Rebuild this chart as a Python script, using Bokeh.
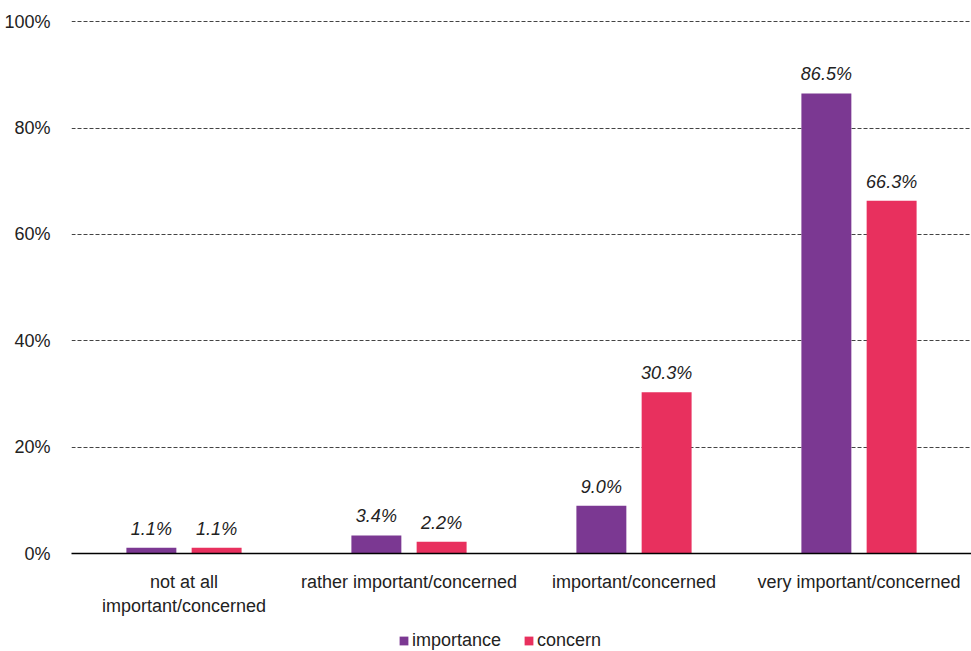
from bokeh.plotting import figure
from bokeh.layouts import column
from bokeh.models import ColumnDataSource, Legend, LegendItem, FixedTicker, CustomJSTickFormatter, Range1d
from bokeh.core.properties import value
from bokeh.transform import dodge
from bokeh.embed import file_html
from bokeh.resources import INLINE

categories = ["not at all\nimportant/concerned", "rather important/concerned",
              "important/concerned", "very important/concerned"]
importance = [1.1, 3.4, 9.0, 86.5]
concern = [1.1, 2.2, 30.3, 66.3]
y_ticks = [0, 20, 40, 60, 80, 100]
series_names = ["importance", "concern"]

PURPLE = "#7B3892"
PINK = "#E8305E"
FONT = "Liberation Sans"
FS = "18px"

src = ColumnDataSource(dict(
    cat=categories,
    imp=importance,
    con=concern,
    imp_lbl=[f"{v:.1f}%" for v in importance],
    con_lbl=[f"{v:.1f}%" for v in concern],
))

p = figure(x_range=categories, y_range=Range1d(0, 100.4), width=971, height=620,
           output_backend="svg", toolbar_location=None,
           min_border_left=71, min_border_right=0, min_border_top=19, min_border_bottom=67)
p.outline_line_color = None

off = 0.145
w = 0.222
p.vbar(x=dodge("cat", -off, range=p.x_range), top="imp", width=w, source=src,
       fill_color=PURPLE, line_color=None)
p.vbar(x=dodge("cat", off, range=p.x_range), top="con", width=w, source=src,
       fill_color=PINK, line_color=None)

for col, lbl, d in (("imp", "imp_lbl", -off), ("con", "con_lbl", off)):
    p.text(x=dodge("cat", d, range=p.x_range), y=col, text=lbl, source=src,
           text_align="center", text_baseline="bottom", y_offset=-9,
           text_font=value(FONT), text_font_style="italic",
           text_font_size=FS, text_color="#222222")

p.xgrid.grid_line_color = None
p.ygrid.grid_line_color = "#444444"
p.ygrid.grid_line_dash = "4 2"
p.ygrid.grid_line_width = 1

p.yaxis.ticker = FixedTicker(ticks=y_ticks)
p.yaxis.formatter = CustomJSTickFormatter(code="return tick + '%';")
p.yaxis.axis_line_color = None
p.yaxis.major_tick_line_color = None
p.yaxis.minor_tick_line_color = None
p.yaxis.major_label_text_font = FONT
p.yaxis.major_label_text_font_size = FS
p.yaxis.major_label_text_color = "#222222"
p.yaxis.major_label_standoff = 15

p.xaxis.axis_line_color = "black"
p.xaxis.axis_line_width = 1.5
p.xaxis.major_tick_line_color = None
p.xaxis.minor_tick_line_color = None
p.xaxis.major_label_text_font = FONT
p.xaxis.major_label_text_font_size = FS
p.xaxis.major_label_text_color = "#222222"
p.xaxis.major_label_standoff = 12

# legend strip below the chart
lg = figure(width=971, height=31, output_backend="svg", toolbar_location=None,
            x_range=Range1d(0, 1), y_range=Range1d(0, 1),
            x_axis_location=None, y_axis_location=None,
            min_border_left=0, min_border_right=0, min_border_top=0, min_border_bottom=0)
lg.outline_line_color = None
lg.xgrid.grid_line_color = None
lg.ygrid.grid_line_color = None
swatch = ColumnDataSource(dict(x=[-10], top=[0]))
l1 = lg.vbar(x="x", top="top", width=0.1, source=swatch, fill_color=PURPLE, line_color=None)
l2 = lg.vbar(x="x", top="top", width=0.1, source=swatch, fill_color=PINK, line_color=None)

legend = Legend(items=[LegendItem(label=series_names[0], renderers=[l1]),
                       LegendItem(label=series_names[1], renderers=[l2])],
                orientation="horizontal", location=(327, 0),
                glyph_width=11, glyph_height=11, spacing=22,
                label_text_font=FONT, label_text_font_size=FS, label_text_color="#222222",
                label_standoff=3, border_line_color=None,
                background_fill_alpha=0, padding=0, margin=0)
lg.add_layout(legend, "center")

layout = column(p, lg, spacing=0)
open("out.html", "w").write(file_html(layout, INLINE))
